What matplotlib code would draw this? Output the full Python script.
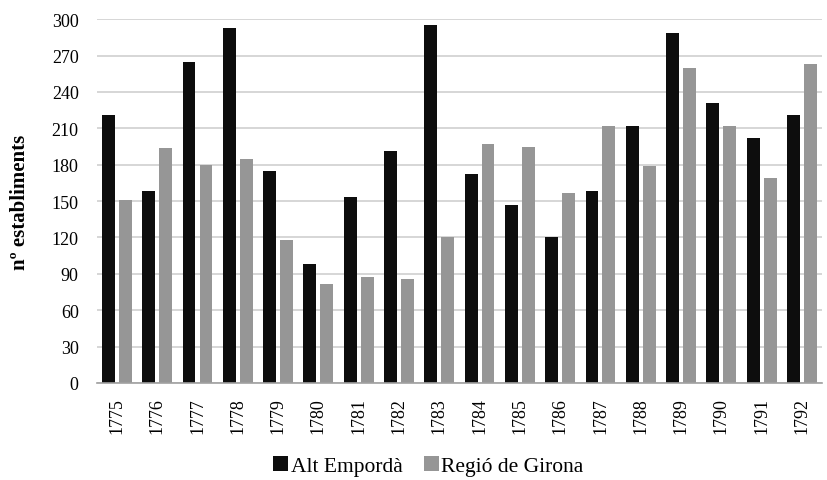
import matplotlib
matplotlib.use("Agg")
import matplotlib.pyplot as plt
import numpy as np

years = [str(y) for y in range(1775, 1793)]
alt_emporda = [221, 158, 265, 293, 175, 98, 153, 191, 295, 172, 147, 120, 158, 212, 289, 231, 202, 221]
regio_girona = [151, 194, 180, 185, 118, 82, 87, 86, 120, 197, 195, 157, 212, 179, 260, 212, 169, 263]
yticks = list(range(0, 301, 30))

plt.rcParams['font.family'] = ['Liberation Serif', 'DejaVu Serif']

fig = plt.figure(figsize=(8.27, 4.81), dpi=100)
ax = fig.add_axes([0.117, 0.2017, 0.877, 0.7563])

x = np.arange(len(years))
w = 0.32
off = 0.21
ax.bar(x - off, alt_emporda, width=w, color='#0d0d0d', label='Alt Empordà', zorder=3)
ax.bar(x + off, regio_girona, width=w, color='#969696', label='Regió de Girona', zorder=3)

ax.set_xlim(-0.5, len(years) - 0.5)
ax.set_ylim(0, 300)
ax.set_yticks(yticks)
ax.set_xticks(x)
ax.set_xticklabels(years, rotation=90, fontsize=13)
ax.tick_params(axis='y', labelsize=13, length=0, pad=13)
ax.tick_params(axis='x', length=0, pad=10)
ax.grid(axis='y', color='#d0d0d0', linewidth=1.2, zorder=0)
for s in ['left', 'right', 'top']:
    ax.spines[s].set_visible(False)
ax.spines['bottom'].set_color('#a0a0a0')
ax.spines['bottom'].set_linewidth(1.2)
ax.spines['bottom'].set_zorder(4)
fig.text(20 / 827, 1 - 202 / 481, 'nº establiments', fontsize=15, fontweight='bold',
         rotation=90, ha='center', va='center')

fig.legend(loc='center', bbox_to_anchor=(0.518, 0.030), ncol=2, frameon=False,
           fontsize=15.5, handlelength=0.7, handleheight=0.7, handletextpad=0.1,
           columnspacing=1.0)

fig.savefig('out.png', dpi=100)
